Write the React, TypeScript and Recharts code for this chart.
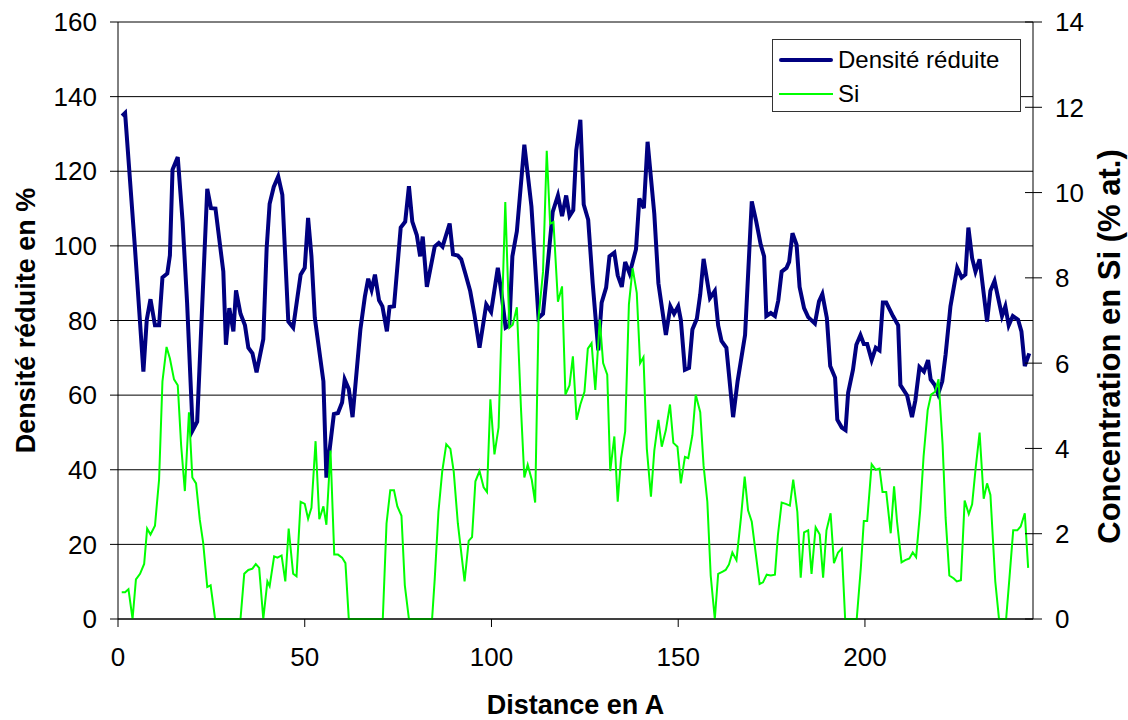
import React from 'react';
import { LineChart, Line, XAxis, YAxis, CartesianGrid } from 'recharts';

const FONT = '"Liberation Sans", Arial, sans-serif';
const CHART_W = 1128;
const CHART_H = 720;

// Densité réduite (%)
const densityX = [
  1.1, 1.9, 4.5, 6.8, 7.7, 8.7, 9.9, 11.0, 11.9, 13.2, 13.9, 14.6, 16.0, 17.3, 18.5, 20.0, 21.2, 23.9, 24.9, 26.1,
  28.2, 28.9, 29.8, 30.9, 31.6, 32.8, 34.0, 34.9, 36.0, 37.1, 38.9, 39.8, 40.6, 41.7, 42.9, 44.0, 45.6, 46.9, 48.9, 50.0,
  50.9, 51.8, 52.7, 55.0, 55.8, 56.7, 57.8, 58.9, 60.0, 60.7, 61.8, 62.8, 64.9, 66.1, 67.0, 67.9, 68.8, 69.9, 70.8, 72.0,
  72.7, 73.9, 75.7, 76.9, 77.9, 78.8, 80.0, 80.9, 81.6, 82.7, 84.8, 85.9, 86.9, 88.8, 89.7, 91.0, 91.9, 93.0, 94.3, 95.4,
  96.8, 98.6, 99.9, 101.7, 102.6, 103.8, 104.8, 105.6, 106.8, 108.8, 110.7, 112.6, 113.8, 116.4, 117.8, 118.9, 120.0, 120.9, 121.9, 122.7,
  123.8, 124.7, 125.9, 127.1, 128.6, 129.5, 130.7, 131.6, 132.9, 133.8, 134.9, 135.8, 137.0, 138.7, 139.6, 140.8, 141.8, 143.6, 144.7, 146.7,
  147.9, 148.9, 150.0, 150.7, 151.8, 152.9, 153.8, 155.0, 155.9, 156.8, 158.5, 159.8, 160.7, 161.6, 162.9, 164.7, 165.9, 167.9, 169.7, 170.9,
  172.1, 173.0, 173.6, 174.8, 175.9, 176.8, 177.7, 179.0, 179.7, 180.6, 181.7, 182.5, 183.7, 184.8, 186.6, 187.7, 188.6, 189.8, 190.7, 192.0,
  192.6, 193.8, 194.8, 195.5, 196.8, 197.7, 198.8, 199.7, 200.6, 201.8, 202.9, 203.9, 204.8, 205.7, 207.5, 208.9, 209.5, 211.3, 212.6, 213.5,
  214.6, 215.8, 216.9, 217.6, 218.7, 219.6, 220.7, 221.6, 222.9, 224.7, 225.9, 226.9, 227.7, 228.7, 229.6, 230.7, 232.7, 233.6, 234.7, 236.7,
  237.6, 238.5, 239.6, 241.0, 241.9, 242.8, 244.0,
];
const densityY = [
  134.8, 135.6, 100, 66.3, 80.2, 85.7, 78.7, 78.7, 91.5, 92.6, 97.5, 120.4, 123.8, 106.5, 84.8, 50.6, 52.9, 115.3, 110.1, 110,
  93.1, 73.5, 83.3, 77.1, 88.1, 81.8, 78.7, 72.7, 71.2, 66.1, 75, 99.3, 111.3, 115.8, 118.6, 113.7, 79.7, 78.1, 92.3, 94.1,
  107.5, 97.2, 80.7, 63.7, 37.9, 45.7, 54.9, 55.2, 58, 64.2, 61.6, 54.1, 77.6, 86.4, 91.2, 88.2, 92.3, 85.4, 83.8, 77.1,
  83.6, 83.8, 104.9, 106.5, 116, 106.5, 102.9, 97.2, 102.5, 89, 99.8, 100.8, 99.8, 106, 97.7, 97.4, 96.4, 92.6, 87.9, 81.8,
  72.7, 84.3, 82.3, 94.1, 87.9, 78.1, 78.7, 97.2, 103.9, 127.1, 110.6, 80.7, 81.8, 109.1, 113.5, 108, 113.5, 108, 109.6, 125.6,
  133.8, 111.1, 107, 90, 72, 84.8, 88.8, 97.2, 98.2, 92.1, 89, 95.7, 92.6, 99.1, 112.7, 110.1, 127.9, 108.6, 90, 76.1,
  83.8, 81.8, 83.8, 80.2, 66.8, 67.3, 77.6, 80.5, 87, 96.5, 86, 87.9, 78.7, 74.5, 72.7, 54.1, 63.7, 76.1, 111.9, 106.5,
  100.3, 97.2, 81.2, 82, 81.2, 85.4, 93.1, 94.1, 95.7, 103.4, 100.3, 89, 83.3, 80.9, 79.2, 85.1, 87.1, 80.7, 67.8, 64.7,
  53.4, 51.3, 50.6, 60.6, 66.8, 73.5, 76.1, 73.7, 73.7, 69.4, 72.7, 72, 84.8, 84.8, 81.2, 78.7, 62.7, 59.9, 54.1, 58.6,
  67.5, 66.3, 69.4, 64.2, 62.7, 60.3, 63.7, 70.9, 83.8, 94.1, 91.5, 92.3, 104.9, 96.7, 93.1, 96.4, 79.7, 88, 90.6, 81.2,
  83.8, 78.7, 81.2, 80.2, 77.1, 67.8, 71.2,
];

// Si (% at.), right axis
const siX = [
  1.0, 1.9, 2.8, 3.9, 4.8, 5.9, 7.0, 7.8, 8.7, 9.9, 11.0, 11.9, 13.0, 13.9, 15.0, 16.0, 16.9, 17.9, 19.0, 19.9,
  20.9, 21.9, 22.8, 23.9, 24.8, 26.0, 32.8, 33.8, 34.9, 36.0, 36.9, 37.8, 38.9, 40.0, 40.6, 41.8, 42.7, 43.8, 44.8, 45.7,
  46.9, 47.8, 48.9, 50.0, 50.9, 51.8, 52.9, 53.9, 55.0, 55.8, 56.9, 57.9, 58.9, 60.0, 60.9, 61.8, 70.9, 71.9, 72.9, 73.9,
  74.8, 75.9, 76.8, 77.9, 84.1, 84.8, 85.8, 86.8, 87.9, 89.0, 89.9, 91.0, 92.8, 93.9, 94.8, 95.7, 96.8, 97.9, 98.8, 99.7,
  100.8, 101.9, 103.7, 104.8, 105.7, 106.8, 107.9, 108.8, 109.7, 110.8, 111.7, 112.6, 113.8, 114.8, 115.7, 116.6, 117.8, 118.9, 119.8, 120.9,
  121.8, 122.8, 123.8, 124.9, 125.8, 126.8, 127.8, 129.0, 129.9, 131.0, 131.8, 132.9, 133.8, 134.7, 135.8, 136.8, 137.8, 138.9, 139.8, 140.7,
  141.6, 142.7, 143.6, 144.7, 145.6, 146.7, 147.8, 148.7, 149.8, 150.7, 151.8, 152.7, 153.8, 154.7, 155.9, 156.8, 157.8, 158.7, 159.8, 160.7,
  161.9, 162.7, 163.6, 164.5, 165.6, 166.8, 167.8, 168.7, 169.7, 170.8, 171.8, 172.7, 173.7, 174.8, 175.9, 176.7, 177.7, 178.8, 179.9, 180.8,
  181.9, 182.8, 183.7, 184.8, 185.7, 186.8, 187.9, 188.8, 189.7, 190.8, 191.7, 192.8, 193.8, 194.7, 197.8, 198.9, 199.7, 200.6, 201.8, 202.9,
  203.9, 204.7, 205.7, 206.9, 207.8, 208.6, 209.8, 210.8, 211.9, 212.8, 213.7, 214.8, 215.7, 216.8, 217.7, 218.8, 219.7, 220.8, 221.6, 222.6,
  223.8, 224.6, 225.7, 226.7, 227.8, 228.7, 229.6, 230.7, 231.8, 232.7, 233.6, 234.9, 235.9, 237.8, 238.7, 239.7, 240.8, 241.7, 242.8, 243.7,
];
const siY = [
  0.63, 0.63, 0.7, 0, 0.93, 1.06, 1.29, 2.12, 1.98, 2.19, 3.27, 5.57, 6.38, 6.11, 5.62, 5.48, 4.08, 3.0, 4.85, 3.32,
  3.18, 2.33, 1.79, 0.75, 0.79, 0, 0, 1.06, 1.15, 1.18, 1.29, 1.2, 0, 0.88, 0.77, 1.47, 1.44, 1.49, 0.88, 2.12,
  1.06, 1.0, 2.75, 2.7, 2.35, 2.61, 4.17, 2.34, 2.64, 2.21, 3.95, 1.51, 1.51, 1.44, 1.31, 0, 0, 2.24, 3.02, 3.02,
  2.64, 2.42, 0.79, 0, 0, 0.93, 2.51, 3.45, 4.1, 3.99, 3.45, 2.24, 0.88, 1.83, 1.92, 3.23, 3.47, 3.09, 2.98, 5.15,
  3.86, 4.49, 9.78, 6.83, 6.9, 7.31, 4.94, 3.32, 3.62, 3.26, 2.73, 7.06, 8.14, 10.98, 9.27, 9.31, 7.44, 7.8, 5.26, 5.48,
  6.16, 4.67, 5.03, 5.33, 6.34, 6.47, 5.37, 7.02, 6.0, 5.73, 3.47, 4.28, 2.75, 3.77, 4.4, 7.38, 8.23, 7.65, 6.0, 6.14,
  3.99, 2.87, 3.95, 4.67, 4.04, 4.43, 5.03, 4.13, 4.04, 3.18, 3.8, 3.77, 4.31, 5.26, 4.85, 3.59, 2.75, 1.02, 0, 1.06,
  1.11, 1.15, 1.28, 1.56, 1.38, 2.37, 3.34, 2.55, 2.28, 1.51, 0.82, 0.86, 1.04, 1.02, 1.04, 1.97, 2.73, 2.7, 2.66, 3.27,
  2.51, 0.97, 2.03, 2.08, 1.06, 2.15, 1.98, 0.97, 2.08, 2.48, 1.31, 1.56, 1.65, 0, 0, 1.2, 2.3, 2.3, 3.63, 3.5,
  3.53, 2.98, 2.98, 2.01, 3.11, 2.28, 1.33, 1.38, 1.42, 1.56, 1.45, 2.55, 3.81, 4.9, 5.26, 5.33, 5.62, 4.08, 2.37, 1.02,
  0.95, 0.88, 0.91, 2.78, 2.46, 2.69, 3.5, 4.37, 2.82, 3.18, 2.91, 0.88, 0, 0, 0.97, 2.08, 2.08, 2.17, 2.48, 1.2,
];

const xTicks = [0, 50, 100, 150, 200];
const leftTicks = [0, 20, 40, 60, 80, 100, 120, 140, 160];
const rightTicks = [0, 2, 4, 6, 8, 10, 12, 14];

const densityData = densityX.map((x, i) => ({ x, y: densityY[i] }));
const siData = siX.map((x, i) => ({ x, y: siY[i] }));

const tickStyle = { fontSize: 26, fill: '#000', fontFamily: FONT };
const titleStyle = { fontSize: 27, fontWeight: 700, fill: '#000', fontFamily: FONT };

const RightTick = (props: any) => {
  const { x, y, payload } = props;
  return (
    <g>
      <line x1={x - 30} x2={x - 13} y1={y} y2={y} stroke="#000" strokeWidth={1} />
      <text x={x} y={y} dy="0.36em" textAnchor="start" {...tickStyle}>
        {payload.value}
      </text>
    </g>
  );
};

const LeftTitle = (props: any) => {
  const { y, height } = props.viewBox;
  const cx = 35;
  const cy = y + height / 2;
  return (
    <text x={cx} y={cy} textAnchor="middle" transform={`rotate(-90, ${cx}, ${cy})`} {...titleStyle}>
      Densité réduite en %
    </text>
  );
};

const RightTitle = (props: any) => {
  const { x, y, height } = props.viewBox;
  const cx = x + 87;
  const cy = y + height / 2 + 26;
  return (
    <text x={cx} y={cy} textAnchor="middle" transform={`rotate(-90, ${cx}, ${cy})`} {...titleStyle} fontSize={31}>
      Concentration en Si (% at.)
    </text>
  );
};

export default function App() {
  return (
    <div style={{ position: 'absolute', left: 0, top: 0, width: CHART_W, height: CHART_H, background: '#fff', fontFamily: FONT, overflow: 'hidden' }}>
      <LineChart width={CHART_W} height={CHART_H} margin={{ top: 22, right: 0, bottom: 0, left: 0 }}>
        <CartesianGrid yAxisId="left" vertical={false} stroke="#000" horizontalValues={leftTicks} />
        <XAxis
          dataKey="x"
          type="number"
          domain={[0, 245]}
          ticks={xTicks}
          height={101}
          tickSize={8}
          tickMargin={21}
          tick={tickStyle}
          stroke="#000"
          allowDuplicatedCategory={false}
        />
        <YAxis
          yAxisId="left"
          domain={[0, 160]}
          ticks={leftTicks}
          width={118}
          tickSize={8}
          tickMargin={13}
          tick={tickStyle}
          stroke="#000"
          label={{ content: LeftTitle }}
        />
        <YAxis
          yAxisId="right"
          orientation="right"
          domain={[0, 14]}
          ticks={rightTicks}
          width={95}
          tickSize={0}
          tickMargin={22}
          tickLine={false}
          tick={RightTick}
          stroke="#000"
          label={{ content: RightTitle }}
        />
        <Line
          yAxisId="left"
          data={densityData}
          dataKey="y"
          name="Densité réduite"
          stroke="#000080"
          strokeWidth={4}
          dot={false}
          isAnimationActive={false}
        />
        <Line
          yAxisId="right"
          data={siData}
          dataKey="y"
          name="Si"
          stroke="#00ff00"
          strokeWidth={2}
          dot={false}
          isAnimationActive={false}
        />
      </LineChart>
      <div
        style={{
          position: 'absolute',
          left: 118,
          width: 915,
          top: 690,
          textAlign: 'center',
          fontSize: 27,
          fontWeight: 700,
          lineHeight: '30px',
          color: '#000',
        }}
      >
        Distance en A
      </div>
      <div
        style={{
          position: 'absolute',
          left: 772,
          top: 39,
          width: 247,
          height: 71,
          border: '1px solid #333',
          background: '#fff',
          fontSize: 24,
          color: '#000',
        }}
      >
        <div style={{ position: 'absolute', left: 6, top: 18, width: 54, height: 4, background: '#000080', borderRadius: 2 }} />
        <div style={{ position: 'absolute', left: 65, top: 5, lineHeight: '30px' }}>Densité réduite</div>
        <div style={{ position: 'absolute', left: 6, top: 53, width: 54, height: 2, background: '#00ff00' }} />
        <div style={{ position: 'absolute', left: 65, top: 39, lineHeight: '30px' }}>Si</div>
      </div>
    </div>
  );
}
